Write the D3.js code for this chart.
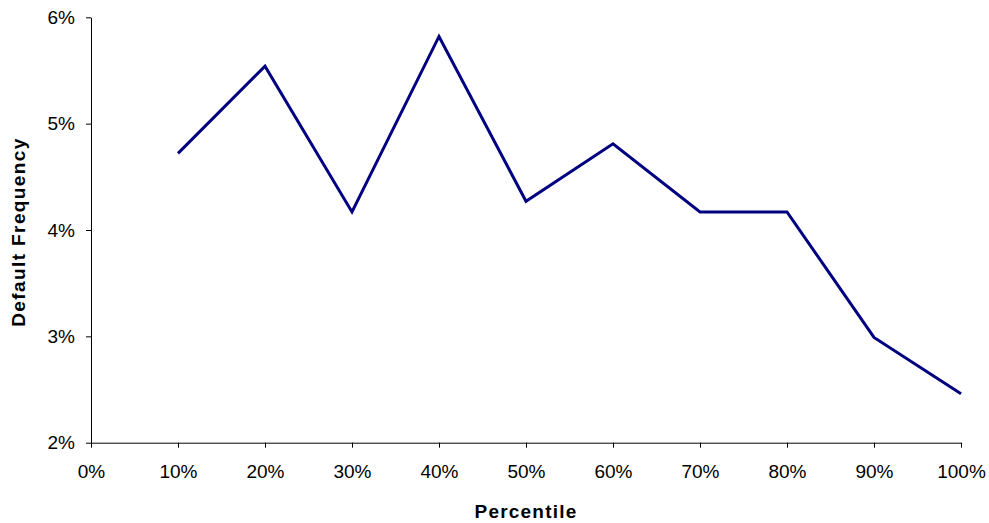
<!DOCTYPE html>
<html><head><meta charset="utf-8">
<script src="https://cdn.jsdelivr.net/npm/d3@7"></script>
<style>
body{margin:0;background:#fff;}
svg{display:block;}
</style></head>
<body><svg id="c" width="989" height="523"></svg>
<script>
const percentiles = [10,20,30,40,50,60,70,80,90,100];
const defaultFreq = [4.72,5.54,4.17,5.82,4.27,4.81,4.17,4.17,2.99,2.46];
const xTicks = [0,10,20,30,40,50,60,70,80,90,100];
const yTicks = [2,3,4,5,6];

const svg = d3.select("#c");
const x = d3.scaleLinear().domain([0,100]).range([91,961]);
const y = d3.scaleLinear().domain([2,6]).range([442.7,17.3]);
const font = "'Liberation Sans', Arial, sans-serif";

const xAxis = svg.append("g").attr("transform","translate(0,442.7)")
  .call(d3.axisBottom(x).tickValues(xTicks).tickFormat(d=>d+"%").tickSize(5).tickSizeOuter(0).tickPadding(17));
const yAxis = svg.append("g").attr("transform","translate(91,0)")
  .call(d3.axisLeft(y).tickValues(yTicks).tickFormat(d=>d+"%").tickSize(5).tickSizeOuter(0).tickPadding(11));
[xAxis,yAxis].forEach(g=>{
  g.selectAll("path,line").attr("stroke","#000").attr("stroke-width",1);
  g.selectAll("text").attr("font-family",font).attr("font-size",19).attr("fill","#000");
});

svg.append("path")
  .datum(percentiles.map((p,i)=>[p,defaultFreq[i]]))
  .attr("fill","none").attr("stroke","#000080").attr("stroke-width",3)
  .attr("stroke-linejoin","miter")
  .attr("d", d3.line().x(d=>x(d[0])).y(d=>y(d[1])));

svg.append("text").attr("x",526).attr("y",518).attr("text-anchor","middle")
  .attr("font-family",font).attr("font-weight","bold").attr("font-size",19)
  .attr("letter-spacing","1.2px").text("Percentile");
svg.append("text").attr("transform","translate(25,232) rotate(-90)").attr("text-anchor","middle")
  .attr("font-family",font).attr("font-weight","bold").attr("font-size",19)
  .attr("letter-spacing","1.4px").text("Default Frequency");
</script></body></html>
